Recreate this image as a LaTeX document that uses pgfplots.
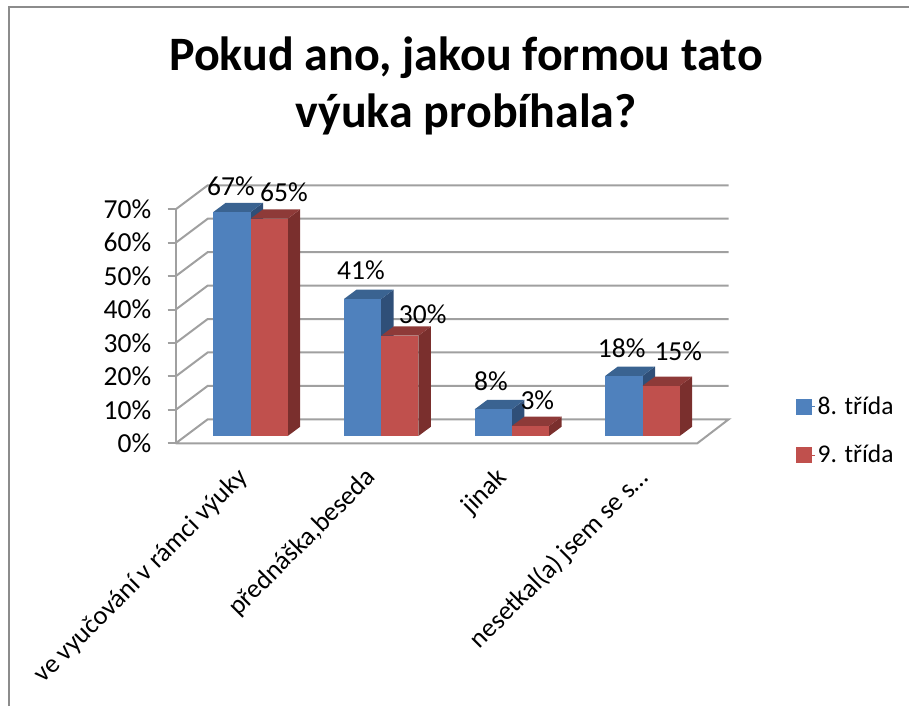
\documentclass[border=0pt]{standalone}
\usepackage{fontspec}
\setmainfont{Carlito}
\usepackage{pgfplots}
\pgfplotsset{compat=1.18}

\definecolor{blueF}{HTML}{4F81BD}
\definecolor{blueT}{HTML}{3A6391}
\definecolor{blueS}{HTML}{2F4F78}
\definecolor{redF}{HTML}{C0504D}
\definecolor{redT}{HTML}{8E3A38}
\definecolor{redS}{HTML}{7A2F2D}
\definecolor{gridc}{HTML}{A0A0A0}
\definecolor{framec}{HTML}{8C8C8C}

% one 3D bar: left edge, value, colour prefix. base is 2.18 above the floor front, depth 12.5 / 2.78
\newcommand{\threedbar}[3]{%
  \pgfmathsetmacro{\xa}{#1}%
  \pgfmathsetmacro{\xb}{#1+37.2}%
  \pgfmathsetmacro{\xc}{#1+49.7}%
  \pgfmathsetmacro{\xd}{#1+12.5}%
  \pgfmathsetmacro{\ya}{2.18}%
  \pgfmathsetmacro{\yb}{#2+2.18}%
  \pgfmathsetmacro{\yc}{#2+4.96}%
  \pgfmathsetmacro{\yd}{4.96}%
  \addplot[fill=#3S,draw=none,forget plot] coordinates {(\xb,\ya) (\xc,\yd) (\xc,\yc) (\xb,\yb)} -- cycle;
  \addplot[fill=#3T,draw=none,forget plot] coordinates {(\xa,\yb) (\xd,\yc) (\xc,\yc) (\xb,\yb)} -- cycle;
  \addplot[fill=#3F,draw=none,forget plot] coordinates {(\xa,\ya) (\xb,\ya) (\xb,\yb) (\xa,\yb)} -- cycle;
}

\begin{document}
\begin{tikzpicture}[x=1pt,y=1pt]
\path[use as bounding box] (0,0) rectangle (909,706);
\draw[framec,line width=2pt] (9.3,0) -- (9.3,698.5) -- (909,698.5);
\begin{axis}[
    at={(175.7pt,262.7pt)},
    anchor=south west,
    scale only axis,
    width=553pt,
    height=258.3pt,
    xmin=175.7, xmax=728.7,
    ymin=0, ymax=77.27,
    clip=false,
    axis line style={draw=none},
    /pgf/number format/assume math mode=true,
    ytick={0,10,20,30,40,50,60,70},
    yticklabel={\pgfmathprintnumber{\tick}\%},
    ytick align=outside,
    ytick pos=left,
    y tick style={gridc,line width=2pt},
    major tick length=8pt,
    xtick={235,363,494,635},
    xticklabels={ve vyučování v rámci výuky,{přednáška,beseda},jinak,nesetkal(a) jsem se s…},
    x tick style={draw=none},
    xticklabel style={rotate=45,anchor=north east,xshift=-12pt,yshift=-13pt,font=\fontsize{26.5}{32}\selectfont},
    yticklabel style={xshift=-13pt,font=\fontsize{27.5}{33}\selectfont},
    title={Pokud ano, jakou formou tato\\výuka probíhala?},
    title style={at={(0.525,1)},anchor=south,yshift=40pt,align=center,
        font=\bfseries\fontsize{48}{57}\selectfont},
    legend style={draw=none,fill=none,at={(axis cs:796,14.5)},anchor=north west,
        font=\fontsize{25.5}{30}\selectfont,row sep=25pt,inner sep=0pt},
    legend cell align=left,
    legend image code/.code={\fill[#1] (0pt,-7.5pt) rectangle (15pt,7.5pt); \path (0pt,0pt) -- (19pt,0pt);},
]
% back wall and floor
\addplot[gridc,line width=2pt,forget plot] coordinates {(175.7,0) (175.7,70)};
\addplot[gridc,line width=2pt,forget plot] coordinates {(175.7,0) (207.7,7.18) (728.7,7.18) (697.3,0) (175.7,0)};
\addplot[gridc,line width=2pt,forget plot] coordinates {(175.7,10) (207.7,17.18) (728.7,17.18)};
\addplot[gridc,line width=2pt,forget plot] coordinates {(175.7,20) (207.7,27.18) (728.7,27.18)};
\addplot[gridc,line width=2pt,forget plot] coordinates {(175.7,30) (207.7,37.18) (728.7,37.18)};
\addplot[gridc,line width=2pt,forget plot] coordinates {(175.7,40) (207.7,47.18) (728.7,47.18)};
\addplot[gridc,line width=2pt,forget plot] coordinates {(175.7,50) (207.7,57.18) (728.7,57.18)};
\addplot[gridc,line width=2pt,forget plot] coordinates {(175.7,60) (207.7,67.18) (728.7,67.18)};
\addplot[gridc,line width=2pt,forget plot] coordinates {(175.7,70) (207.7,77.18) (728.7,77.18)};

\threedbar{213.3}{67}{blue}
\threedbar{250.5}{65}{red}
\threedbar{344.0}{41}{blue}
\threedbar{381.2}{30}{red}
\threedbar{474.7}{8}{blue}
\threedbar{511.9}{3}{red}
\threedbar{605.3}{18}{blue}
\threedbar{642.5}{15}{red}

% data labels
\addplot[draw=none,forget plot,point meta=explicit symbolic,
    nodes near coords={\pgfplotspointmeta\%},
    every node near coord/.style={anchor=center,inner sep=0pt,black,font=\fontsize{27.5}{33}\selectfont},
] table[x=x,y=y,meta=v] {
x y v
231.0 76.97 67
284.0 75.17 65
361.0 51.63 41
422.7 38.68 30
491.0 18.43 8
537.3 12.95 3
621.7 28.42 18
678.3 27.40 15
};

\addlegendimage{blueF}
\addlegendentry{8. třída}
\addlegendimage{redF}
\addlegendentry{9. třída}
\end{axis}
\end{tikzpicture}
\end{document}
